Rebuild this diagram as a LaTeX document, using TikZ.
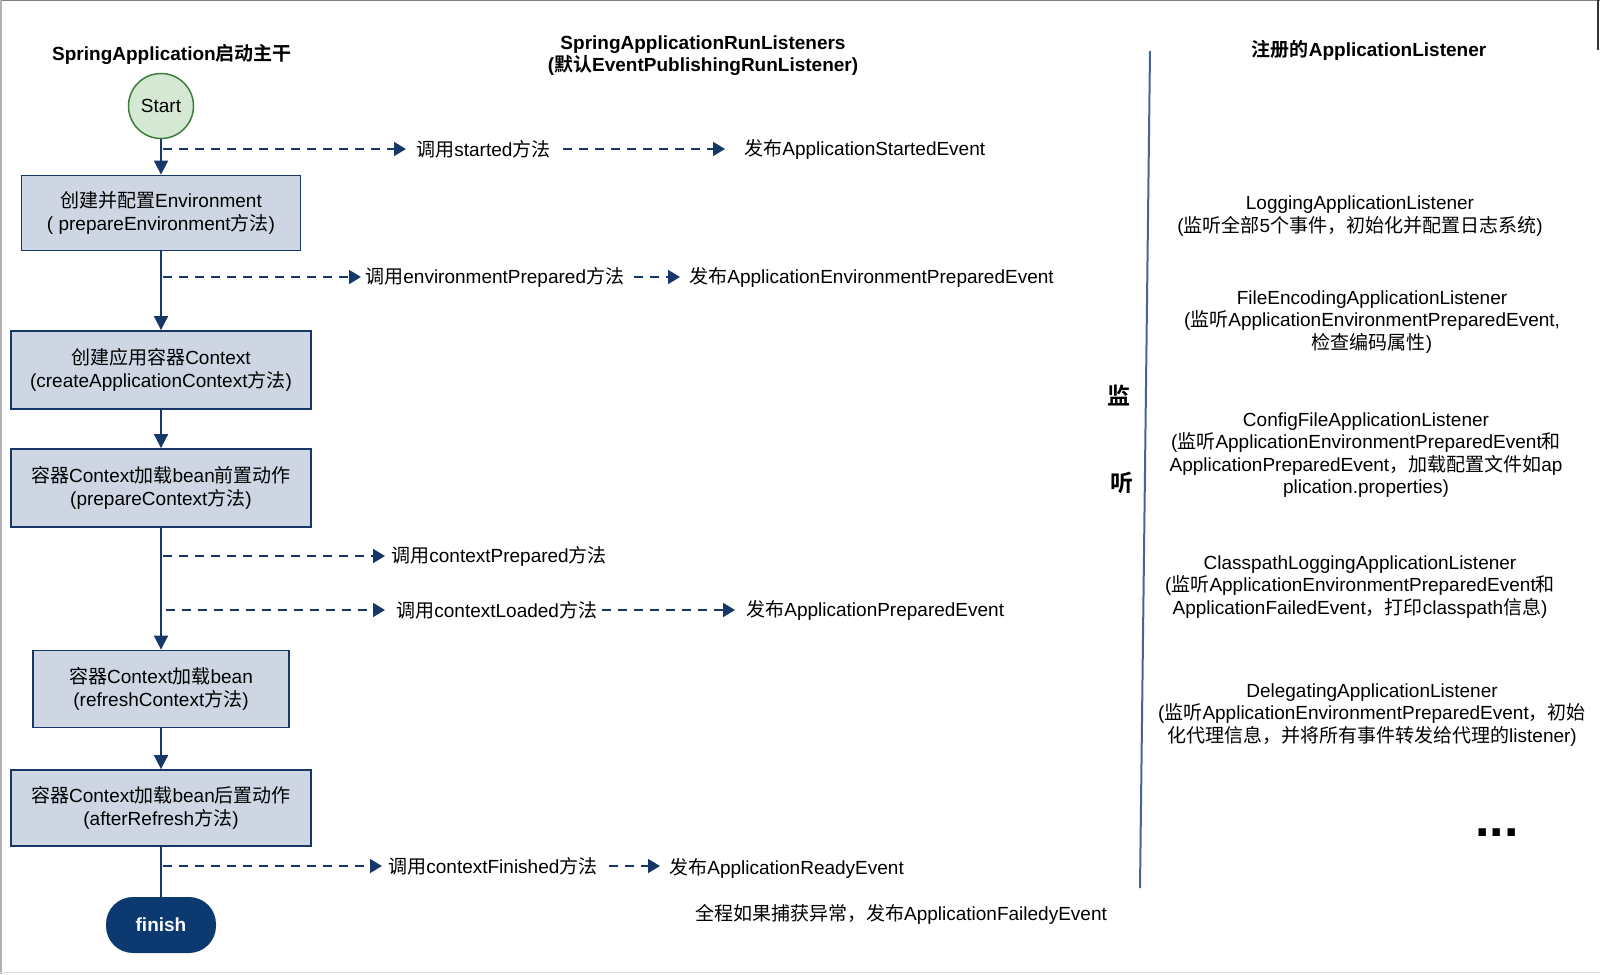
\documentclass[tikz,border=0pt]{standalone}
\usepackage{fontspec}
\setmainfont{Liberation Sans}
\newfontfamily\zhfont{Noto Sans CJK SC}[BoldFont={Noto Sans CJK SC Bold}]
\newcommand{\zh}[1]{{\zhfont #1}}
\usetikzlibrary{arrows.meta}

\definecolor{flownavy}{HTML}{173768}
\definecolor{boxfill}{HTML}{CED6E4}
\definecolor{startfill}{HTML}{D5E8D4}
\definecolor{startgreen}{HTML}{3C7D3C}
\definecolor{finishfill}{HTML}{0C3A70}
\definecolor{sepline}{HTML}{46649A}

\tikzset{every picture/.style={line width=0.75pt}}
\tikzset{
  flowbox/.style={draw=flownavy, fill=boxfill, line width=1.8pt, align=center,
    minimum width=300pt, minimum height=77pt, inner sep=0pt,
    font=\fontsize{19}{23}\selectfont},
  flowline/.style={draw=flownavy, line width=1.8pt, -{Triangle[length=14pt,width=14pt]}},
  callline/.style={draw=flownavy, line width=1.8pt, dash pattern={on 9pt off 7pt},
    -{Triangle[length=12pt,width=14pt]}},
  lbl/.style={inner sep=0pt, font=\fontsize{19}{23}\selectfont},
  heading/.style={inner sep=0pt, align=center, font=\fontsize{19}{22}\selectfont\bfseries},
  listener/.style={inner sep=0pt, align=center, font=\fontsize{19}{22.5}\selectfont},
}

\begin{document}
\begin{tikzpicture}[x=1pt, y=-1pt]
    \useasboundingbox (0,0) rectangle (1600,974);
    % screen frame
    \draw[gray, line width=1.5pt] (0,0.75) -- (1600,0.75);
    \draw[gray!60, line width=1.5pt] (0.75,0) -- (0.75,974);
    \draw[gray!25, line width=1pt] (0,972) -- (1600,972);
    \draw[black!80, line width=1.5pt] (1598,0) -- (1598,50);

    % headings
    \node[heading] (tmain) at (172,54) {SpringApplication\zh{启动主干}};
    \node[heading] (trun) at (703,56) {SpringApplicationRunListeners\\(\zh{默认}EventPublishingRunListener)};
    \node[heading] (tlist) at (1369,50) {\zh{注册的}ApplicationListener};

    % main flow
    \node[circle, draw=startgreen, fill=startfill, line width=1.5pt, minimum size=65pt,
      inner sep=0pt, font=\fontsize{19}{23}\selectfont] (start) at (161,106) {Start};
    \node[flowbox, minimum width=279pt, minimum height=75pt] (b1) at (161,213) {\zh{创建并配置}Environment\\( prepareEnvironment\zh{方法})};
    \node[flowbox, minimum height=78pt] (b2) at (161,370) {\zh{创建应用容器}Context\\(createApplicationContext\zh{方法})};
    \node[flowbox, minimum height=78pt] (b3) at (161,488) {\zh{容器}Context\zh{加载}bean\zh{前置动作}\\(prepareContext\zh{方法})};
    \node[flowbox, minimum width=256pt] (b4) at (161,689) {\zh{容器}Context\zh{加载}bean\\(refreshContext\zh{方法})};
    \node[flowbox, minimum height=76pt] (b5) at (161,808) {\zh{容器}Context\zh{加载}bean\zh{后置动作}\\(afterRefresh\zh{方法})};
    \node[fill=finishfill, rounded corners=27pt, minimum width=110pt, minimum height=56pt,
      text=white, font=\fontsize{19}{23}\selectfont\bfseries] (finish) at (161,925) {finish};

    \draw[flowline] (start) -- (b1);
    \draw[flowline] (b1) -- (b2);
    \draw[flowline] (b2) -- (b3);
    \draw[flowline] (b3) -- (b4);
    \draw[flowline] (b4) -- (b5);
    \draw[draw=flownavy, line width=1.8pt] (b5) -- (finish);

    % listener calls
    \coordinate (e1) at (163,149);
    \coordinate (e2) at (163,277);
    \coordinate (e3) at (163,556);
    \coordinate (e4) at (166,610);
    \coordinate (e5) at (163,866);
    \node[lbl, anchor=west] (call1) at (416,149) {\zh{调用}started\zh{方法}};
    \node[lbl, anchor=west] (pub1) at (744,149) {\zh{发布}ApplicationStartedEvent};
    \node[lbl, anchor=west] (call2) at (365,277) {\zh{调用}environmentPrepared\zh{方法}};
    \node[lbl, anchor=west] (pub2) at (689,277) {\zh{发布}ApplicationEnvironmentPreparedEvent};
    \node[lbl, anchor=west] (call3) at (391,556) {\zh{调用}contextPrepared\zh{方法}};
    \node[lbl, anchor=west] (call4) at (396,610) {\zh{调用}contextLoaded\zh{方法}};
    \node[lbl, anchor=west] (pub4) at (746,610) {\zh{发布}ApplicationPreparedEvent};
    \node[lbl, anchor=west] (call5) at (388,866) {\zh{调用}contextFinished\zh{方法}};
    \node[lbl, anchor=west] (pub5) at (669,868) {\zh{发布}ApplicationReadyEvent};
    \node[lbl] (fail) at (901,914) {\zh{全程如果捕获异常，发布}ApplicationFailedyEvent};

    \draw[callline, shorten >=10pt] (e1) -- (call1.west);
    \draw[callline, shorten <=12pt, shorten >=19pt] (call1.east) -- (pub1.west);
    \draw[callline, shorten >=4pt] (e2) -- (call2.west);
    \draw[callline, shorten <=10pt, shorten >=9pt] (call2.east) -- (pub2.west);
    \draw[callline, shorten >=6pt] (e3) -- (call3.west);
    \draw[callline, shorten >=11pt] (e4) -- (call4.west);
    \draw[callline, shorten <=5pt, shorten >=11pt] (call4.east) -- (pub4.west);
    \draw[callline, shorten >=6pt] (e5) -- (call5.west);
    \draw[callline, shorten <=11pt, shorten >=9pt] (call5.east) -- (pub5.west |- call5);

    % registered listeners
    \draw[sepline, line width=2pt] (1150,51) -- (1140,888);
    \node[font=\fontsize{23}{23}\selectfont\bfseries] (jian) at (1119,396) {\zh{监}};
    \node[font=\fontsize{23}{23}\selectfont\bfseries] (ting) at (1122,483) {\zh{听}};

    \node[listener] (logl) at (1360,216) {LoggingApplicationListener\\(\zh{监听全部}5\zh{个事件，初始化并配置日志系统})};
    \node[listener] (fencl) at (1372,322) {FileEncodingApplicationListener\\(\zh{监听}ApplicationEnvironmentPreparedEvent,\\\zh{检查编码属性})};
    \node[listener] (confl) at (1366,455) {ConfigFileApplicationListener\\(\zh{监听}ApplicationEnvironmentPreparedEvent\zh{和}\\ApplicationPreparedEvent\zh{，加载配置文件如}ap\\plication.properties)};
    \node[listener] (cpll) at (1360,587) {ClasspathLoggingApplicationListener\\(\zh{监听}ApplicationEnvironmentPreparedEvent\zh{和}\\ApplicationFailedEvent\zh{，打印}classpath\zh{信息})};
    \node[listener] (delel) at (1372,715) {DelegatingApplicationListener\\(\zh{监听}ApplicationEnvironmentPreparedEvent\zh{，初始}\\\zh{化代理信息，并将所有事件转发给代理的}listener)};
    \node[font=\fontsize{52}{52}\selectfont\bfseries, inner sep=0pt] (more) at (1497,833) {...};
\end{tikzpicture}
\end{document}
